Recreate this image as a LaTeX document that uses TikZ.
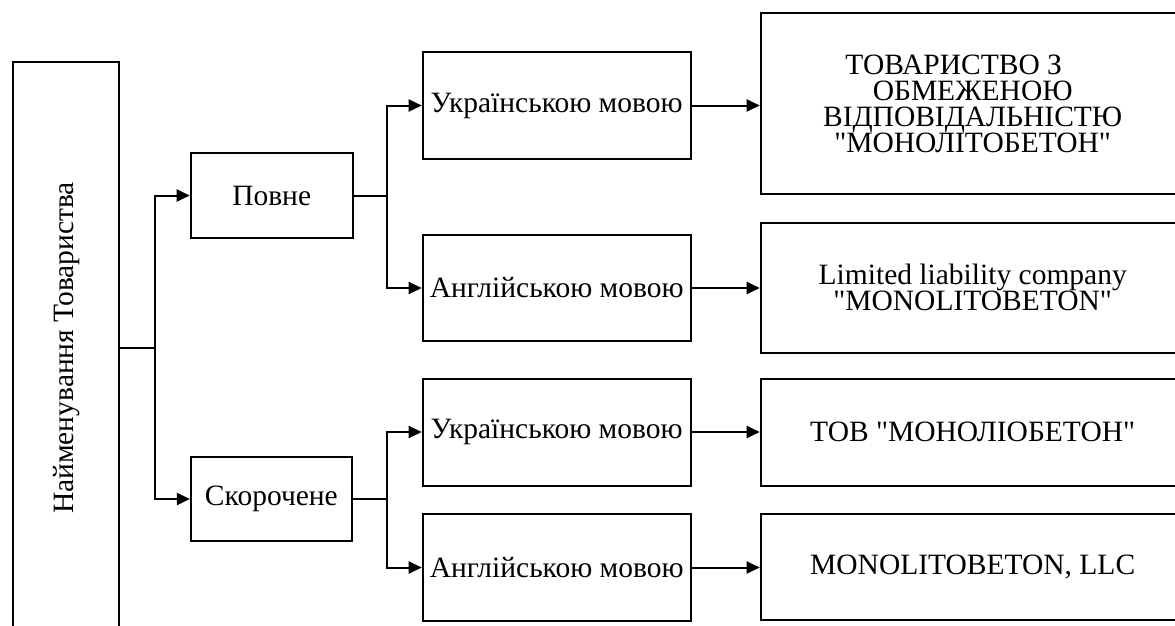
\documentclass[tikz,border=0pt]{standalone}
\usepackage{graphicx}
\usepackage{fontspec}
\setmainfont{Liberation Serif}[Ligatures=TeXOff]
\usetikzlibrary{arrows.meta}
\begin{document}
\begin{tikzpicture}[x=1pt,y=-1pt,
  box/.style={draw, line width=2pt, inner sep=0pt, align=center,
    font=\fontsize{29.5}{26}\selectfont},
  conn/.style={line width=2pt},
  arr/.style={conn, -{Triangle[length=13pt,width=12pt]}}]
\clip (0,0) rectangle (1175,625);
\node[box, minimum width=106pt, minimum height=572pt] (root) at (66.3,348)
  {\rotatebox{90}{Найменування Товариства}};
\node[box, minimum width=162pt, minimum height=85pt] (povne) at (271.7,195.5) {Повне};
\node[box, minimum width=161pt, minimum height=84pt] (skor) at (271.4,499) {Скорочене};
\node[box, minimum width=268pt, minimum height=107pt] (ua1) at (556.7,105.5) {Українською мовою};
\node[box, minimum width=268pt, minimum height=106pt] (en1) at (556.7,288) {Англійською мовою};
\node[box, minimum width=268pt, minimum height=107pt] (ua2) at (556.7,432) {Українською мовою};
\node[box, minimum width=268pt, minimum height=107pt] (en2) at (556.7,567.5) {Англійською мовою};
\node[box, minimum width=424pt, minimum height=181pt] (r1) at (972.7,103.5)
  {ТОВАРИСТВО З\hspace*{38pt}\\ОБМЕЖЕНОЮ\\ВІДПОВІДАЛЬНІСТЮ\\"МОНОЛІТОБЕТОН"};
\node[box, minimum width=424pt, minimum height=130pt] (r2) at (972.7,287.7)
  {Limited liability company\\"MONOLITOBETON"};
\node[box, minimum width=424pt, minimum height=107pt] (r3) at (972.7,432.3) {ТОВ "МОНОЛІОБЕТОН"};
\node[box, minimum width=424pt, minimum height=106pt] (r4) at (972.7,567) {MONOLITOBETON, LLC};
\coordinate (j1) at (155,348);
\coordinate (j2) at (387,195.5);
\coordinate (j3) at (387,499);
\draw[conn] (root.east |- j1) -- (j1);
\draw[arr] (j1) |- (povne);
\draw[arr] (j1) |- (skor);
\draw[conn] (povne.east) -- (j2);
\draw[arr] (j2) |- (ua1);
\draw[arr] (j2) |- (en1);
\draw[conn] (skor.east) -- (j3);
\draw[arr] (j3) |- (ua2);
\draw[arr] (j3) |- (en2);
\draw[arr] (ua1.east) -- (ua1.east -| r1.west);
\draw[arr] (en1.east) -- (en1.east -| r2.west);
\draw[arr] (ua2.east) -- (ua2.east -| r3.west);
\draw[arr] (en2.east) -- (en2.east -| r4.west);
\end{tikzpicture}
\end{document}
